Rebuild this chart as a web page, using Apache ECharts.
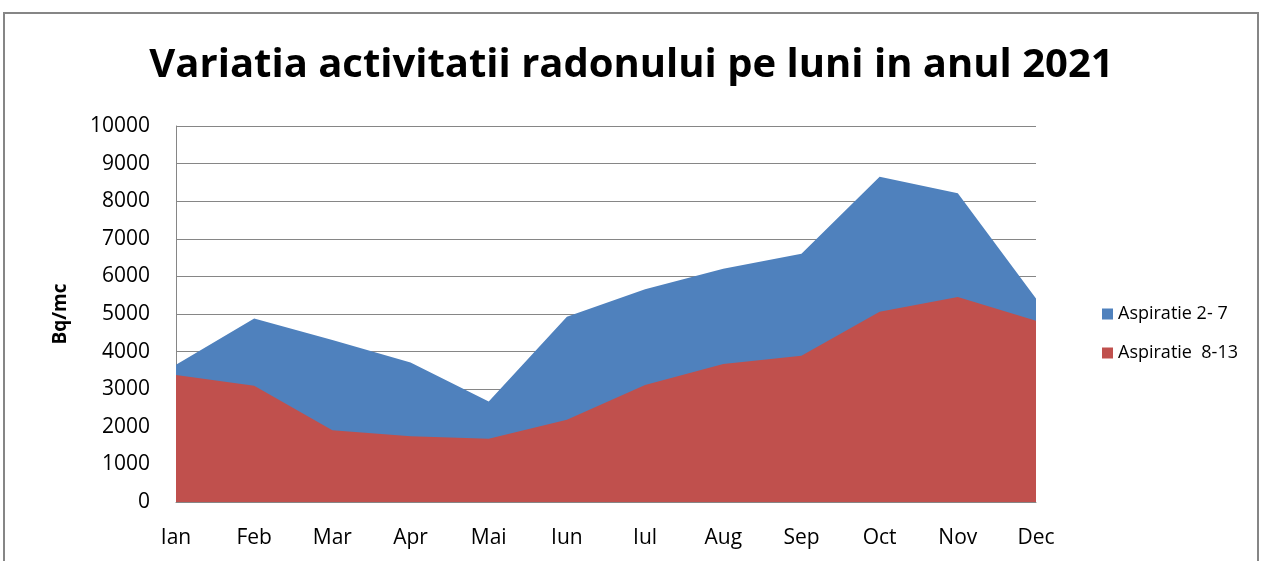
<!DOCTYPE html>
<html>
<head>
<meta charset="utf-8">
<script src="https://cdn.jsdelivr.net/npm/echarts@6/dist/echarts.min.js"></script>
<style>
  html, body { margin: 0; padding: 0; background: #fff; }
  #chart { width: 1263px; height: 561px; }
</style>
</head>
<body>
<div id="chart"></div>
<script>
// luni
var months = ['Ian', 'Feb', 'Mar', 'Apr', 'Mai', 'Iun', 'Iul', 'Aug', 'Sep', 'Oct', 'Nov', 'Dec'];
// Bq/mc
var asp2_7 = [3650, 4880, 4310, 3710, 2675, 4925, 5660, 6205, 6600, 8650, 8210, 5410];
var asp8_13 = [3380, 3090, 1905, 1750, 1680, 2190, 3115, 3670, 3890, 5060, 5455, 4820];
var seriesNames = ['Aspiratie 2- 7', 'Aspiratie  8-13'];

var font = "'Open Sans', sans-serif";

var chart = echarts.init(document.getElementById('chart'));
chart.setOption({
  animation: false,
  title: {
    text: 'Variatia activitatii radonului pe luni in anul 2021',
    left: 'center',
    top: 41,
    textStyle: { fontFamily: font, fontSize: 40, fontWeight: 'bold', color: '#000' }
  },
  graphic: [{
    type: 'rect',
    shape: { x: 4, y: 13, width: 1254, height: 600 },
    style: { fill: 'none', stroke: '#868686', lineWidth: 2 },
    silent: true
  }],
  legend: {
    orient: 'vertical',
    left: 1097,
    top: 300,
    itemGap: 21,
    itemWidth: 11,
    itemHeight: 11,
    icon: 'rect',
    textStyle: { fontFamily: font, fontSize: 18, color: '#000' },
    data: seriesNames
  },
  grid: { left: 176, right: 227, top: 126, bottom: 59 },
  xAxis: {
    type: 'category',
    data: months,
    boundaryGap: false,
    axisLine: { lineStyle: { color: '#868686' } },
    axisTick: { show: false },
    axisLabel: { fontFamily: font, fontSize: 21, color: '#000', margin: 26 }
  },
  yAxis: {
    type: 'value',
    min: 0,
    max: 10000,
    interval: 1000,
    name: 'Bq/mc',
    nameLocation: 'middle',
    nameGap: 106,
    nameRotate: 90,
    nameTextStyle: { fontFamily: font, fontSize: 19, fontWeight: 'bold', color: '#000' },
    axisLine: { show: true, lineStyle: { color: '#868686' } },
    axisTick: { show: false },
    axisLabel: {
      fontFamily: font, fontSize: 21, color: '#000', margin: 26,
      formatter: function (v) { return String(v); }
    },
    splitLine: { lineStyle: { color: '#868686' } }
  },
  series: [
    {
      name: seriesNames[0],
      type: 'line',
      data: asp2_7,
      symbol: 'none',
      lineStyle: { width: 0 },
      itemStyle: { color: '#4F81BD' },
      areaStyle: { color: '#4F81BD', opacity: 1 }
    },
    {
      name: seriesNames[1],
      type: 'line',
      data: asp8_13,
      symbol: 'none',
      lineStyle: { width: 0 },
      itemStyle: { color: '#C0504D' },
      areaStyle: { color: '#C0504D', opacity: 1 }
    }
  ]
});
window.addEventListener('resize', function () {
  chart.resize();
});
</script>
</body>
</html>
